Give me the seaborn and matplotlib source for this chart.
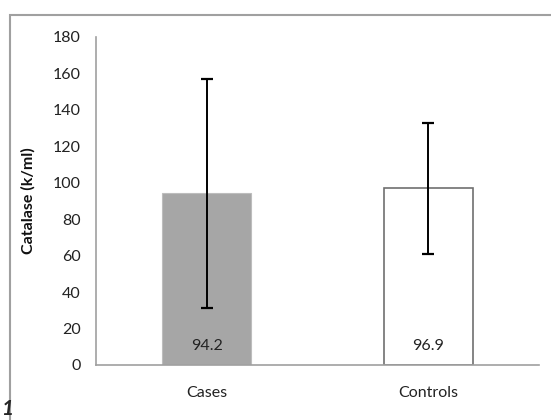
import matplotlib
matplotlib.use("Agg")
import matplotlib.pyplot as plt
import seaborn as sns
import pandas as pd
from matplotlib.patches import Rectangle

groups = ["Cases", "Controls"]
means = [94.2, 96.9]
sds = [63.0, 36.0]
yticks = [0, 20, 40, 60, 80, 100, 120, 140, 160, 180]

df = pd.DataFrame({"group": groups, "catalase": means})

sns.set_style("white")
plt.rcParams["font.family"] = ["Lato", "DejaVu Sans"]

fig = plt.figure(figsize=(5.51, 4.2), dpi=100)
ax = fig.add_axes([96 / 551, 55 / 420, 443 / 551, 328 / 420])

sns.barplot(data=df, x="group", y="catalase", hue="group", palette=["#a6a6a6", "white"],
            width=0.4, errorbar=None, legend=False, ax=ax)
ax.patches[0].set_edgecolor("#bdbdbd")
ax.patches[0].set_linewidth(0.8)
ax.patches[1].set_edgecolor("#707070")
ax.patches[1].set_linewidth(1.2)

ax.errorbar(range(len(groups)), means, yerr=sds, fmt="none", ecolor="black",
            elinewidth=1.4, capsize=4, capthick=1.6)

for i, m in enumerate(means):
    ax.text(i, 10.5, f"{m}", ha="center", va="center", fontsize=11.5, color="#222222")

ax.set_xlim(-0.5, 1.5)
ax.set_ylim(0, 180)
ax.set_yticks(yticks)
ax.set_xticks([-0.5, 0.5, 1.5], minor=True)
ax.tick_params(axis="x", which="major", length=0, pad=15, labelsize=11.5, colors="#222222")
ax.tick_params(axis="x", which="minor", length=4, color="#a0a0a0", width=1, direction="out")
ax.tick_params(axis="y", length=4, color="#a0a0a0", width=1, direction="out", pad=7,
               labelsize=11.5, labelcolor="#222222")
for s in ["top", "right"]:
    ax.spines[s].set_visible(False)
for s in ["left", "bottom"]:
    ax.spines[s].set_color("#a0a0a0")
    ax.spines[s].set_linewidth(1.2)

ax.set_xlabel("")
ax.set_ylabel("Catalase (k/ml)", fontsize=11.5, fontweight="bold", labelpad=12, color="#111111")

fig.patches.append(Rectangle((10 / 551, -0.05), 1.2, 1.05 + (405 - 420) / 420,
                             transform=fig.transFigure, fill=False, edgecolor="#a0a0a0",
                             linewidth=1.5))
fig.text(1 / 551, 1 / 420, "1", fontsize=15, fontweight="bold", fontstyle="italic",
         ha="left", va="bottom")

fig.savefig("out.png", dpi=100)
